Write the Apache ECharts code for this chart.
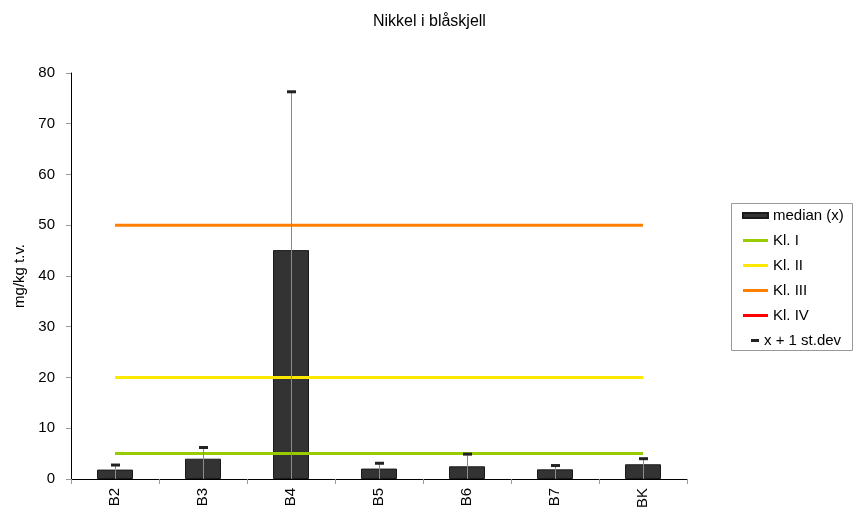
<!DOCTYPE html>
<html>
<head>
<meta charset="utf-8">
<script src="https://cdn.jsdelivr.net/npm/echarts@6/dist/echarts.min.js"></script>
<style>
html,body{margin:0;padding:0;background:#fff;}
#chart{width:853px;height:511px;}
</style>
</head>
<body>
<div id="chart"></div>
<script>
const categories = ['B2', 'B3', 'B4', 'B5', 'B6', 'B7', 'BK'];
const median = [1.85, 4.0, 45.1, 2.05, 2.5, 1.9, 2.9];
const plusStdev = [2.75, 6.2, 76.3, 3.1, 4.9, 2.65, 4.0];
const kl1 = [5, 5, 5, 5, 5, 5, 5];
const kl2 = [20, 20, 20, 20, 20, 20, 20];
const kl3 = [50, 50, 50, 50, 50, 50, 50];
const kl4 = [100, 100, 100, 100, 100, 100, 100];
const yTicks = [0, 10, 20, 30, 40, 50, 60, 70, 80];

const FONT = '"Liberation Sans", Arial, sans-serif';
const chart = echarts.init(document.getElementById('chart'), null, {renderer: 'canvas'});

function lineSeries(name, data, color) {
  return {
    name: name, type: 'line', data: data, symbol: 'none', z: 3,
    lineStyle: {color: color, width: 3}, itemStyle: {color: color},
    emphasis: {disabled: true}, silent: true, animation: false
  };
}
const LINE_ICON = 'path://M0,0 L25,0 L25,3 L0,3 Z';

const option = {
  animation: false,
  backgroundColor: '#fff',
  textStyle: {fontFamily: FONT},
  title: {
    text: 'Nikkel i blåskjell', left: 373, top: 14, padding: 0,
    textStyle: {fontFamily: FONT, fontSize: 16, fontWeight: 'normal', color: '#000'}
  },
  grid: {left: 71, right: 166, top: 73, bottom: 30, containLabel: false},
  graphic: [{
    type: 'rect', left: 731, top: 203, z: 0,
    shape: {width: 121, height: 147},
    style: {fill: '#fff', stroke: '#999', lineWidth: 1}
  }],
  legend: [{
    orient: 'vertical', left: 742, top: 208, padding: 0,
    itemWidth: 25, itemHeight: 5, itemGap: 10, selectedMode: false,
    symbolKeepAspect: true,
    textStyle: {fontFamily: FONT, fontSize: 15, color: '#000', lineHeight: 15},
    data: [{name: 'median (x)', icon: 'rect'},
      {name: 'Kl. I', icon: LINE_ICON},
      {name: 'Kl. II', icon: LINE_ICON},
      {name: 'Kl. III', icon: LINE_ICON},
      {name: 'Kl. IV', icon: LINE_ICON}]
  }, {
    orient: 'vertical', left: 751, top: 333, padding: 0,
    itemWidth: 8, itemHeight: 3, selectedMode: false,
    textStyle: {fontFamily: FONT, fontSize: 15, color: '#000', lineHeight: 15},
    data: [{name: 'x + 1 st.dev', icon: 'rect', itemStyle: {color: '#222'}}]
  }],
  xAxis: {
    type: 'category', data: categories, boundaryGap: true,
    axisLine: {lineStyle: {color: '#000', width: 1}},
    axisTick: {show: true, length: 5, lineStyle: {color: '#999'}},
    axisLabel: {rotate: 90, fontSize: 15, color: '#000', margin: 9, fontFamily: FONT},
    splitLine: {show: false}
  },
  yAxis: {
    type: 'value', min: 0, max: 80, interval: 10,
    name: 'mg/kg t.v.', nameLocation: 'middle', nameRotate: 90, nameGap: 44,
    nameTextStyle: {fontSize: 15, color: '#000', fontFamily: FONT},
    axisLine: {show: true, lineStyle: {color: '#000', width: 1}},
    axisTick: {show: true, length: 5, lineStyle: {color: '#999'}},
    axisLabel: {fontSize: 15, color: '#000', margin: 16, fontFamily: FONT,
      formatter: function (v) { return yTicks.indexOf(v) >= 0 ? String(v) : ''; }},
    splitLine: {show: false}
  },
  series: [{
    name: 'median (x)', type: 'bar', data: median, barWidth: 36, z: 2,
    itemStyle: {color: '#333333', borderColor: '#1a1a1a', borderWidth: 1},
    emphasis: {disabled: true}, silent: true
  },
  lineSeries('Kl. I', kl1, '#99CC00'),
  lineSeries('Kl. II', kl2, '#FFE800'),
  lineSeries('Kl. III', kl3, '#FF8000'),
  lineSeries('Kl. IV', kl4, '#FF0000'),
  {
    name: 'x + 1 st.dev', type: 'custom', z: 4, silent: true,
    itemStyle: {color: '#222'},
    data: plusStdev.map(function (v, i) { return [i, v]; }),
    renderItem: function (params, api) {
      const i = api.value(0);
      const top = api.coord([i, api.value(1)]);
      const base = api.coord([i, 0]);
      return {
        type: 'group',
        children: [{
          type: 'line',
          shape: {x1: Math.round(top[0]) + 0.5, y1: top[1], x2: Math.round(top[0]) + 0.5, y2: base[1]},
          style: {stroke: '#8a8a8a', lineWidth: 1}
        }, {
          type: 'rect',
          shape: {x: Math.round(top[0]) - 4, y: top[1] - 1.5, width: 9, height: 3},
          style: {fill: '#222'}
        }]
      };
    }
  }]
};
chart.setOption(option);
</script>
</body>
</html>
